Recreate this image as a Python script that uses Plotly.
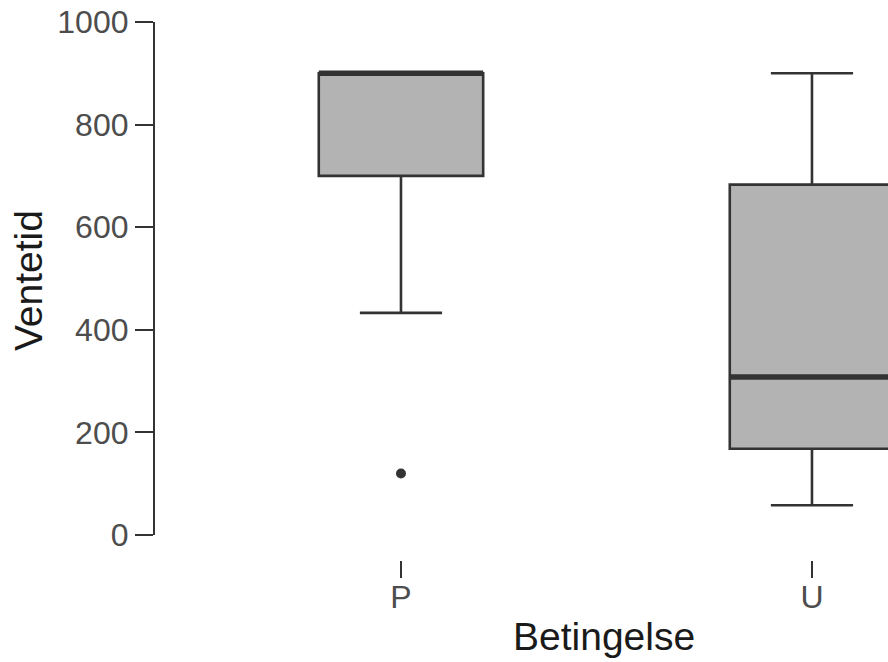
import plotly.graph_objects as go

categories = ["P", "U"]
q1 = [700, 168]
medians = [900, 308]
q3 = [900, 683]
lower_whisker = [433, 58]
upper_whisker = [900, 900]
outlier_cats = ["P"]
outlier_vals = [120]
y_ticks = [0, 200, 400, 600, 800, 1000]

LINE = "#333333"
FILL = "#b3b3b3"
FONT = "Liberation Sans, Arial, sans-serif"
BOXW = 0.4

fig = go.Figure()
fig.add_trace(go.Box(
    x=categories, q1=q1, median=medians, q3=q3,
    lowerfence=lower_whisker, upperfence=upper_whisker,
    fillcolor=FILL, line=dict(color=LINE, width=2.6),
    width=BOXW, whiskerwidth=0.5, boxpoints=False, showlegend=False,
    hoverinfo="skip",
))
fig.add_trace(go.Scatter(
    x=outlier_cats, y=outlier_vals, mode="markers",
    marker=dict(color=LINE, size=10), showlegend=False, hoverinfo="skip",
))

for i, m in enumerate(medians):
    fig.add_shape(type="line", xref="x", yref="y",
                  x0=i - BOXW / 2, x1=i + BOXW / 2, y0=m, y1=m,
                  line=dict(color=LINE, width=5.5), layer="above")

fig.update_layout(
    width=888, height=662,
    margin=dict(l=155, r=0, t=22, b=102),
    paper_bgcolor="white", plot_bgcolor="white",
    font=dict(family=FONT, color="#4d4d4d", size=32),
    xaxis=dict(
        type="category", categoryorder="array", categoryarray=categories,
        range=[-0.5985, 1.185], anchor="free", position=0,
        showline=False, showgrid=False, zeroline=False,
        ticks="outside", ticklen=17, tickwidth=2, tickcolor=LINE,
        tickfont=dict(size=32, color="#4d4d4d"),
        ticklabelstandoff=-8,
    ),
    yaxis=dict(
        domain=[0.0465, 1], range=[0, 1000],
        tickvals=y_ticks, ticktext=[str(v) for v in y_ticks],
        showline=True, linecolor=LINE, linewidth=2.2,
        showgrid=False, zeroline=False,
        ticks="outside", ticklen=18, tickwidth=2.2, tickcolor=LINE,
        tickfont=dict(size=32, color="#4d4d4d"),
    ),
    annotations=[
        dict(text="Betingelse", xref="paper", yref="paper",
             x=0.6125, y=-0.143, xanchor="center", yanchor="middle",
             showarrow=False, font=dict(size=39, color="#1a1a1a")),
        dict(text="Ventetid", xref="paper", yref="paper",
             x=-0.1733, y=0.5204, xanchor="center", yanchor="middle",
             textangle=-90, showarrow=False,
             font=dict(size=39, color="#1a1a1a")),
    ],
)

fig.write_html(
    "out.html",
    config={"displayModeBar": False},
    post_script="document.body.style.margin='0';document.body.style.overflow='hidden';",
)
